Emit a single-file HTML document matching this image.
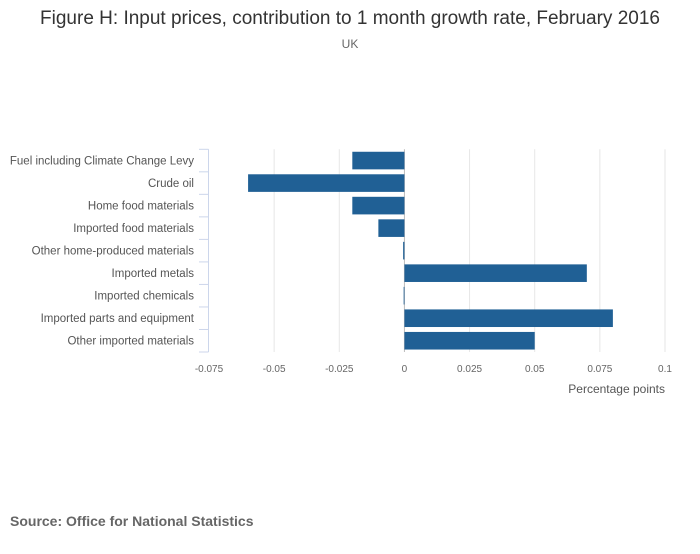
<!DOCTYPE html>
<html><head><meta charset="utf-8"><style>
body{margin:0;background:#fff;font-family:"Liberation Sans",sans-serif}
svg text{font-family:"Liberation Sans",sans-serif}
</style></head><body>
<svg id="chart" width="700" height="549">
<text x="350" y="24" text-anchor="middle" font-size="19" fill="#333">Figure H: Input prices, contribution to 1 month growth rate, February 2016</text>
<text x="350" y="48" text-anchor="middle" font-size="12" fill="#666">UK</text>
<text x="665" y="393" text-anchor="end" font-size="12" fill="#555">Percentage points</text>
<text x="10" y="526" font-size="14" font-weight="bold" fill="#666">Source: Office for National Statistics</text>
<g id="grid"></g><g id="bars"></g><g id="yaxis"></g><g id="xaxis"></g>
</svg>
<script>
const categories=["Fuel including Climate Change Levy","Crude oil","Home food materials","Imported food materials","Other home-produced materials","Imported metals","Imported chemicals","Imported parts and equipment","Other imported materials"];
const values=[-0.02,-0.06,-0.02,-0.01,-0.0005,0.07,-0.0003,0.08,0.05];
const xTicks=[-0.075,-0.05,-0.025,0,0.025,0.05,0.075,0.1];
const xTickLabels=["-0.075","-0.05","-0.025","0","0.025","0.05","0.075","0.1"];
const NS="http://www.w3.org/2000/svg";
const x0=209,x1=665,plotTop=149.3,plotBottom=352;
const xs=v=>x0+(v-(-0.075))/(0.175)*(x1-x0);
const band=(plotBottom-plotTop)/categories.length;
function mk(t,a,p){const e=document.createElementNS(NS,t);for(const k in a)e.setAttribute(k,a[k]);p.appendChild(e);return e;}
const g=document.getElementById('grid'),b=document.getElementById('bars'),ya=document.getElementById('yaxis'),xa=document.getElementById('xaxis');
xTicks.forEach((t,i)=>{
 if(t!==-0.075){const l=mk('line',{x1:xs(t),x2:xs(t),y1:plotTop,y2:plotBottom,stroke:t===0?'#bbb':'#e6e6e6','stroke-width':1},g);
 
 }
 const tx=mk('text',{x:xs(t),y:372,'text-anchor':'middle','font-size':10,fill:'#666'},xa);
 tx.textContent=xTickLabels[i];
 
 
});
const ax=mk('line',{x1:208.5,x2:208.5,y1:plotTop,y2:plotBottom,stroke:'#ccd6eb','stroke-width':1},ya);


for(let i=0;i<=categories.length;i++){
 const y=plotTop+i*band;
 const tk=mk('line',{x1:199,x2:208.5,y1:y,y2:y,stroke:'#ccd6eb','stroke-width':1},ya);
 
 
}
categories.forEach((c,i)=>{
 const yc=plotTop+(i+0.5)*band;
 const tx=mk('text',{x:194,y:yc+4,'text-anchor':'end','font-size':11.5,fill:'#555'},ya);
 tx.textContent=c;
 
 
 const v=values[i],a=xs(0),e=xs(v);
 const r=mk('rect',{x:Math.min(a,e),y:yc-8.8,width:Math.max(Math.abs(e-a),0.8),height:17.6,fill:'#206095'},b);
 
 
});
</script>
</body></html>
